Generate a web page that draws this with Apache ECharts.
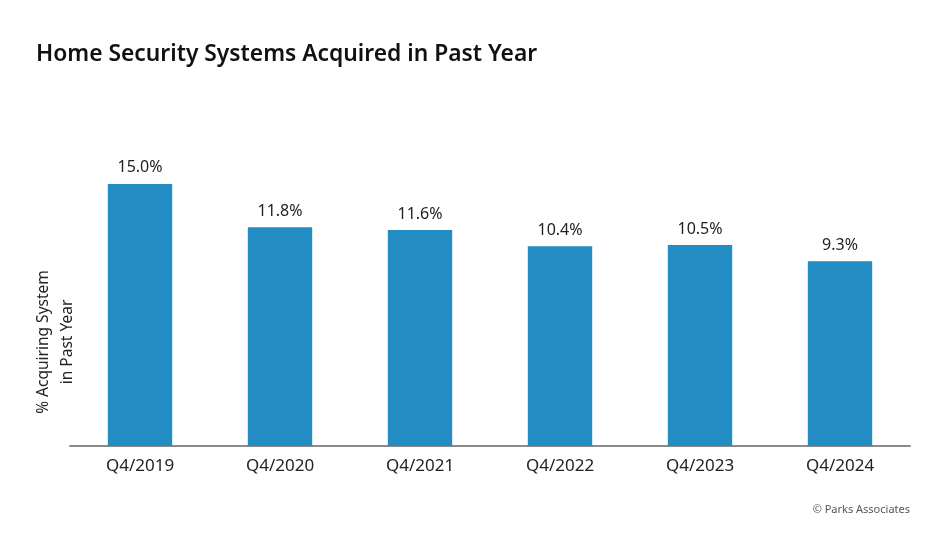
<!DOCTYPE html>
<html>
<head>
<meta charset="utf-8">
<script src="https://cdn.jsdelivr.net/npm/echarts@6/dist/echarts.min.js"></script>
<style>html,body{margin:0;padding:0;background:#fff;}#c{width:950px;height:534px;}</style>
</head>
<body>
<div id="c"></div>
<script>
const categories = ["Q4/2019", "Q4/2020", "Q4/2021", "Q4/2022", "Q4/2023", "Q4/2024"];
const values = [15.0, 11.8, 11.6, 10.4, 10.5, 9.3];
const titleText = "Home Security Systems Acquired in Past Year";
const yName = "% Acquiring System\nin Past Year";
const sourceText = "© Parks Associates";
const axisMin = -4.3;
const axisMax = 20;

const chart = echarts.init(document.getElementById('c'));
const font = "'Noto Sans', sans-serif";
chart.setOption({
  animation: false,
  backgroundColor: '#fff',
  title: {
    text: titleText,
    left: 31, top: 38,
    textStyle: { fontFamily: font, fontSize: 22.8, fontWeight: 600, color: '#111' }
  },
  grid: { left: 70, right: 40, top: 116, bottom: 88 },
  xAxis: {
    type: 'category',
    data: categories,
    axisLine: { onZero: false, lineStyle: { color: '#8a8a8a', width: 2 } },
    axisTick: { show: false },
    axisLabel: { fontFamily: font, fontSize: 17, color: '#222', margin: 12 }
  },
  yAxis: {
    type: 'value',
    min: axisMin, max: axisMax,
    show: false
  },
  series: [{
    type: 'custom',
    data: values.map((v, i) => [i, v]),
    encode: { x: 0, y: 1 },
    z: 1,
    renderItem: function (params, api) {
      const idx = api.value(0);
      const v = api.value(1);
      const top = api.coord([idx, v]);
      const bottom = api.coord([idx, axisMin]);
      const w = api.size([1, 0])[0] * 0.46;
      return {
        type: 'group',
        children: [
          {
            type: 'rect',
            shape: { x: top[0] - w / 2, y: top[1], width: w, height: bottom[1] - top[1] },
            style: { fill: '#238dc3' }
          },
          {
            type: 'text',
            x: top[0], y: top[1] - 8,
            style: {
              text: v.toFixed(1) + '%', align: 'center', verticalAlign: 'bottom',
              fontFamily: font, fontSize: 16, fill: '#222'
            }
          }
        ]
      };
    }
  }],
  graphic: [
    {
      type: 'text', x: 56, y: 342, rotation: Math.PI / 2,
      style: { text: yName, fontFamily: font, fontSize: 15.5, fill: '#222', align: 'center', verticalAlign: 'middle', lineHeight: 24 }
    },
    {
      type: 'text', right: 40, top: 504,
      style: { text: sourceText, fontFamily: font, fontSize: 11, fill: '#555' }
    }
  ]
});
</script>
</body>
</html>
